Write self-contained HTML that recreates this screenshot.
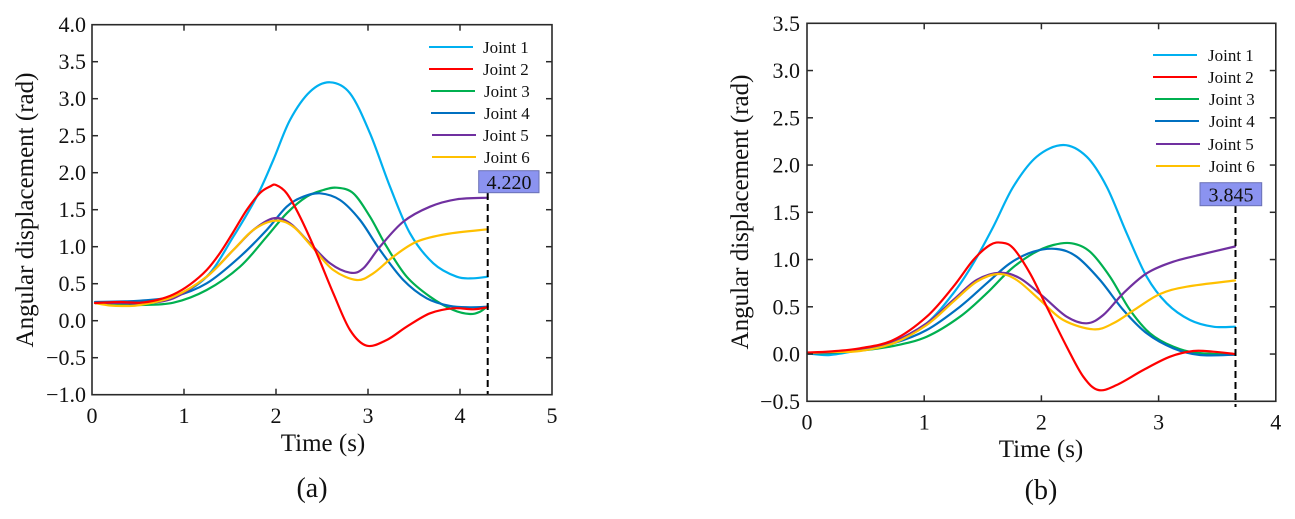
<!DOCTYPE html>
<html>
<head>
<meta charset="utf-8">
<style>
html,body{margin:0;padding:0;background:#fff;}
svg{display:block;}
text{font-family:"Liberation Serif","Times New Roman",serif;fill:#111;}
.tk{font-size:22px;}
.ttl{font-size:25px;}
.lg{font-size:17px;}
.s{fill:none;stroke-width:2.2;stroke-linejoin:round;stroke-linecap:round;}
.ax{fill:none;stroke:#2a2a2a;stroke-width:1.6;}
.tick{stroke:#2a2a2a;stroke-width:1.5;}
</style>
</head>
<body>
<svg id="sv" width="1295" height="519" viewBox="0 0 1295 519" xmlns="http://www.w3.org/2000/svg">
<rect width="1295" height="519" fill="#fff"/>

<!-- ================= LEFT PLOT (a) ================= -->
<g id="left">
  <polyline class="s" stroke="#00B0F0" points="95,303 120,302 140,302.7 173.3,297.3 206.7,276.7 233.3,236.7 256.7,196.7 273.3,160 290,120 310,91.7 330,82.3 350,93.3 370,133.3 390,186.7 410,233.3 433.3,263.3 456.7,276.7 473.3,278.3 487.7,276.7"/>
  <polyline class="s" stroke="#00B050" points="95,303 120,304 140,305 173.3,302.7 206.7,290 240,266.7 266.7,236.7 286.7,213.3 306.7,196.7 323.3,190 336.7,187.7 353.3,193.3 370,216.7 386.7,246.7 406.7,276.7 430,296.7 453.3,310 470,314 480,311.7 487.7,306"/>
  <polyline class="s" stroke="#0070C0" points="95,302 120,301.5 140,300.7 173.3,296.7 206.7,283.3 240,256.7 266.7,230 286.7,206.7 303.3,196.7 320,193.3 340,200 360,220 380,250 403.3,280 426.7,298.3 450,306 470,307.3 487.7,306.7"/>
  <polyline class="s" stroke="#7030A0" points="95,303 120,303 140,303.3 173.3,298.3 206.7,276.7 233.3,250 253.3,230 273.3,218.3 290,223.3 310,243.3 330,263.3 350,272.7 363.3,268.3 380,246.7 403.3,221.7 430,206.7 456.7,199.3 487.7,197.7"/>
  <polyline class="s" stroke="#FFC000" points="95,303 110,305.5 125,306 140,305 173.3,296.7 206.7,276.7 233.3,250 253.3,230 275,220.7 293.3,226.7 313.3,248.3 333.3,270 356.7,280 373.3,273.3 393.3,256.7 416.7,241.7 446.7,234 487.7,229.3"/>
  <polyline class="s" stroke="#FF0000" points="95,303 120,302 140,302.7 157,300 173.3,294.5 190,284.5 206.7,270 220,253 233,232.5 246.7,210 260,193 270,186.5 276,185 286.7,193.3 300,216.7 316.7,253.3 333.3,293.3 350,330 366.7,345.7 386.7,340 406.7,326.7 430,313.3 453.3,308.3 473.3,309.3 487.7,307.3"/>

  <line x1="487.7" y1="193" x2="487.7" y2="395" stroke="#000" stroke-width="2" stroke-dasharray="7,4"/>
  <rect x="478.7" y="170.7" width="60.3" height="22" fill="#8B93F0" stroke="#6A70B5" stroke-width="1"/>
  <text x="509" y="188.8" text-anchor="middle" style="font-size:20px">4.220</text>

  <rect class="ax" x="92" y="24.7" width="460" height="370"/>
  <g class="tick">
    <line x1="92" y1="61.7" x2="98" y2="61.7"/><line x1="552" y1="61.7" x2="546" y2="61.7"/>
    <line x1="92" y1="98.7" x2="98" y2="98.7"/><line x1="552" y1="98.7" x2="546" y2="98.7"/>
    <line x1="92" y1="135.7" x2="98" y2="135.7"/><line x1="552" y1="135.7" x2="546" y2="135.7"/>
    <line x1="92" y1="172.7" x2="98" y2="172.7"/><line x1="552" y1="172.7" x2="546" y2="172.7"/>
    <line x1="92" y1="209.7" x2="98" y2="209.7"/><line x1="552" y1="209.7" x2="546" y2="209.7"/>
    <line x1="92" y1="246.7" x2="98" y2="246.7"/><line x1="552" y1="246.7" x2="546" y2="246.7"/>
    <line x1="92" y1="283.7" x2="98" y2="283.7"/><line x1="552" y1="283.7" x2="546" y2="283.7"/>
    <line x1="92" y1="320.7" x2="98" y2="320.7"/><line x1="552" y1="320.7" x2="546" y2="320.7"/>
    <line x1="92" y1="357.7" x2="98" y2="357.7"/><line x1="552" y1="357.7" x2="546" y2="357.7"/>
    <line x1="184" y1="394.7" x2="184" y2="388.7"/><line x1="184" y1="24.7" x2="184" y2="30.7"/>
    <line x1="276" y1="394.7" x2="276" y2="388.7"/><line x1="276" y1="24.7" x2="276" y2="30.7"/>
    <line x1="368" y1="394.7" x2="368" y2="388.7"/><line x1="368" y1="24.7" x2="368" y2="30.7"/>
    <line x1="460" y1="394.7" x2="460" y2="388.7"/><line x1="460" y1="24.7" x2="460" y2="30.7"/>
  </g>
  <g class="tk" text-anchor="end">
    <text x="86" y="32.2">4.0</text>
    <text x="86" y="69.2">3.5</text>
    <text x="86" y="106.2">3.0</text>
    <text x="86" y="143.2">2.5</text>
    <text x="86" y="180.2">2.0</text>
    <text x="86" y="217.2">1.5</text>
    <text x="86" y="254.2">1.0</text>
    <text x="86" y="291.2">0.5</text>
    <text x="86" y="328.2">0.0</text>
    <text x="86" y="365.2">−0.5</text>
    <text x="86" y="402.2">−1.0</text>
  </g>
  <g class="tk" text-anchor="middle">
    <text x="92" y="423">0</text>
    <text x="184" y="423">1</text>
    <text x="276" y="423">2</text>
    <text x="368" y="423">3</text>
    <text x="460" y="423">4</text>
    <text x="552" y="423">5</text>
  </g>
  <text class="ttl" x="323" y="451" text-anchor="middle">Time (s)</text>
  <text x="312" y="497" text-anchor="middle" style="font-size:28px">(a)</text>
  <text class="ttl" transform="translate(33,210) rotate(-90)" text-anchor="middle">Angular displacement (rad)</text>

  <g stroke-width="2">
    <line x1="429" y1="47" x2="473" y2="47" stroke="#00B0F0"/>
    <line x1="429" y1="69" x2="473" y2="69" stroke="#FF0000"/>
    <line x1="431" y1="91" x2="475" y2="91" stroke="#00B050"/>
    <line x1="431" y1="113" x2="475" y2="113" stroke="#0070C0"/>
    <line x1="432" y1="135" x2="476" y2="135" stroke="#7030A0"/>
    <line x1="432" y1="157" x2="476" y2="157" stroke="#FFC000"/>
  </g>
  <g class="lg">
    <text x="483" y="53">Joint 1</text>
    <text x="483" y="75">Joint 2</text>
    <text x="484" y="97">Joint 3</text>
    <text x="484" y="119">Joint 4</text>
    <text x="483" y="141">Joint 5</text>
    <text x="484" y="163">Joint 6</text>
  </g>
</g>

<!-- ================= RIGHT PLOT (b) ================= -->
<g id="right">
  <polyline class="s" stroke="#00B0F0" points="808,353.5 830,355 860,350 893.3,343.3 926.7,323.3 953.3,293.3 973.3,263.3 993.3,226.7 1013.3,186.7 1036.7,156.7 1063.3,145 1086.7,156.7 1106.7,186.7 1126.7,233.3 1146.7,276.7 1166.7,303.3 1190,320 1213.3,326.7 1235,326.7"/>
  <polyline class="s" stroke="#00B050" points="808,353.5 830,353 860,350.7 893.3,346 926.7,336.7 960,316.7 986.7,293.3 1010,270 1033.3,253.3 1053.3,245 1071.7,243.3 1090,251.7 1110,276.7 1130,310 1150,333.3 1173.3,346.7 1196.7,352.7 1235,354.7"/>
  <polyline class="s" stroke="#0070C0" points="808,353.5 830,352.5 860,350 893.3,343.3 926.7,330 960,306.7 986.7,283.3 1010,263.3 1033.3,251.7 1056.7,249 1076.7,256.7 1100,280 1123.3,310 1146.7,333.3 1173.3,348.3 1200,355 1235,354.7"/>
  <polyline class="s" stroke="#7030A0" points="808,353 830,352 860,350 893.3,341.7 926.7,323.3 953.3,300 976.7,280 1000,272.7 1020,278.3 1043.3,296.7 1066.7,316.7 1086.7,323.3 1103.3,315 1123.3,293.3 1146.7,273.3 1173.3,261.7 1203.3,254 1235,246.5"/>
  <polyline class="s" stroke="#FFC000" points="808,353 830,352 860,351 893.3,343.3 926.7,325 953.3,301.7 976.7,281.7 998.3,274 1016.7,280 1040,300 1063.3,320 1093.3,329.3 1113.3,323.3 1136.7,308.3 1160,294 1186.7,286.7 1235,280.5"/>
  <polyline class="s" stroke="#FF0000" points="808,352.5 830,351.5 860,348.3 893.3,340 926.7,316.7 953.3,286.7 973.3,260 990,245 1001.7,242.7 1013.3,248.3 1030,273.3 1046.7,306.7 1066.7,346.7 1083.3,376.7 1098.3,390 1116.7,385 1143.3,370 1170,356.7 1193.3,351 1213.3,351.7 1235,354"/>

  <line x1="1235.5" y1="206" x2="1235.5" y2="407" stroke="#000" stroke-width="2" stroke-dasharray="7,4"/>
  <rect x="1200" y="182.7" width="61.7" height="23" fill="#8B93F0" stroke="#6A70B5" stroke-width="1"/>
  <text x="1231" y="201.3" text-anchor="middle" style="font-size:20px">3.845</text>

  <rect class="ax" x="807" y="23.3" width="468.8" height="378"/>
  <g class="tick">
    <line x1="807" y1="70.55" x2="813" y2="70.55"/><line x1="1275.8" y1="70.55" x2="1269.8" y2="70.55"/>
    <line x1="807" y1="117.8" x2="813" y2="117.8"/><line x1="1275.8" y1="117.8" x2="1269.8" y2="117.8"/>
    <line x1="807" y1="165.05" x2="813" y2="165.05"/><line x1="1275.8" y1="165.05" x2="1269.8" y2="165.05"/>
    <line x1="807" y1="212.3" x2="813" y2="212.3"/><line x1="1275.8" y1="212.3" x2="1269.8" y2="212.3"/>
    <line x1="807" y1="259.55" x2="813" y2="259.55"/><line x1="1275.8" y1="259.55" x2="1269.8" y2="259.55"/>
    <line x1="807" y1="306.8" x2="813" y2="306.8"/><line x1="1275.8" y1="306.8" x2="1269.8" y2="306.8"/>
    <line x1="807" y1="354.05" x2="813" y2="354.05"/><line x1="1275.8" y1="354.05" x2="1269.8" y2="354.05"/>
    <line x1="924.2" y1="401.3" x2="924.2" y2="395.3"/><line x1="924.2" y1="23.3" x2="924.2" y2="29.3"/>
    <line x1="1041.4" y1="401.3" x2="1041.4" y2="395.3"/><line x1="1041.4" y1="23.3" x2="1041.4" y2="29.3"/>
    <line x1="1158.6" y1="401.3" x2="1158.6" y2="395.3"/><line x1="1158.6" y1="23.3" x2="1158.6" y2="29.3"/>
  </g>
  <g class="tk" text-anchor="end">
    <text x="800" y="30.8">3.5</text>
    <text x="800" y="78.05">3.0</text>
    <text x="800" y="125.3">2.5</text>
    <text x="800" y="172.55">2.0</text>
    <text x="800" y="219.8">1.5</text>
    <text x="800" y="267.05">1.0</text>
    <text x="800" y="314.3">0.5</text>
    <text x="800" y="361.55">0.0</text>
    <text x="800" y="408.8">−0.5</text>
  </g>
  <g class="tk" text-anchor="middle">
    <text x="807" y="429.5">0</text>
    <text x="924.2" y="429.5">1</text>
    <text x="1041.4" y="429.5">2</text>
    <text x="1158.6" y="429.5">3</text>
    <text x="1275.8" y="429.5">4</text>
  </g>
  <text class="ttl" x="1041" y="457" text-anchor="middle">Time (s)</text>
  <text x="1041" y="499" text-anchor="middle" style="font-size:28px">(b)</text>
  <text class="ttl" transform="translate(748,212) rotate(-90)" text-anchor="middle">Angular displacement (rad)</text>

  <g stroke-width="2">
    <line x1="1153" y1="55" x2="1197" y2="55" stroke="#00B0F0"/>
    <line x1="1153" y1="77" x2="1197" y2="77" stroke="#FF0000"/>
    <line x1="1155" y1="99" x2="1199" y2="99" stroke="#00B050"/>
    <line x1="1155" y1="121" x2="1199" y2="121" stroke="#0070C0"/>
    <line x1="1156" y1="144" x2="1200" y2="144" stroke="#7030A0"/>
    <line x1="1156" y1="166" x2="1200" y2="166" stroke="#FFC000"/>
  </g>
  <g class="lg">
    <text x="1208" y="61">Joint 1</text>
    <text x="1208" y="83">Joint 2</text>
    <text x="1209" y="105">Joint 3</text>
    <text x="1209" y="127">Joint 4</text>
    <text x="1208" y="150">Joint 5</text>
    <text x="1209" y="172">Joint 6</text>
  </g>
</g>
</svg>
<script>
(function(){
  var NS="http://www.w3.org/2000/svg";
  var pls=document.querySelectorAll("polyline.s");
  for(var k=0;k<pls.length;k++){
    var pl=pls[k];
    var raw=pl.getAttribute("points").trim().split(/\s+/);
    var p=raw.map(function(s){var a=s.split(",");return [parseFloat(a[0]),parseFloat(a[1])];});
    var d="M"+p[0][0]+","+p[0][1];
    for(var i=0;i<p.length-1;i++){
      var p0=p[i>0?i-1:i],p1=p[i],p2=p[i+1],p3=p[i+2<p.length?i+2:i+1];
      var c1x=p1[0]+(p2[0]-p0[0])/6,c1y=p1[1]+(p2[1]-p0[1])/6;
      var c2x=p2[0]-(p3[0]-p1[0])/6,c2y=p2[1]-(p3[1]-p1[1])/6;
      d+=" C"+c1x.toFixed(2)+","+c1y.toFixed(2)+" "+c2x.toFixed(2)+","+c2y.toFixed(2)+" "+p2[0]+","+p2[1];
    }
    var path=document.createElementNS(NS,"path");
    path.setAttribute("d",d);
    path.setAttribute("class","s");
    path.setAttribute("stroke",pl.getAttribute("stroke"));
    pl.parentNode.replaceChild(path,pl);
  }
})();
</script>
</body>
</html>
